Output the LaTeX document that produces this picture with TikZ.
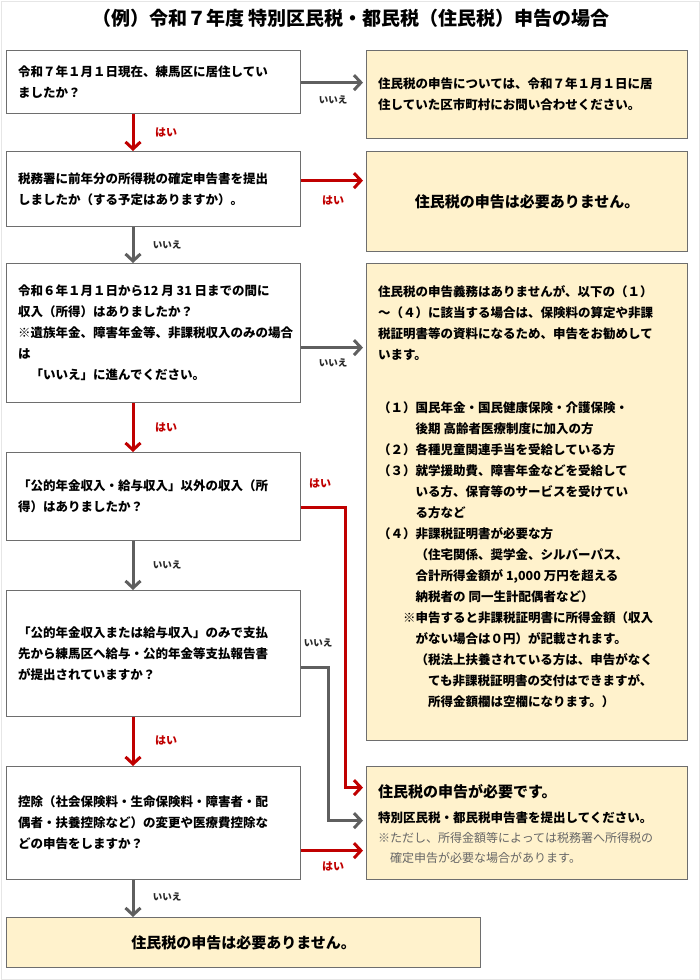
\documentclass[tikz,border=0pt]{standalone}
\usepackage{fontspec}
\setmainfont{Noto Sans CJK JP}
\usetikzlibrary{arrows.meta}
\definecolor{boxline}{HTML}{6E6E6E}
\definecolor{ansfill}{HTML}{FFF2CC}
\definecolor{redc}{HTML}{C00000}
\definecolor{grayc}{HTML}{5F5F5F}
\definecolor{notegray}{HTML}{666666}
\definecolor{framec}{HTML}{E6E6E6}
\tikzset{
  qbox/.style={draw=boxline, line width=1.2pt, fill=white, anchor=north west, inner sep=0pt},
  abox/.style={draw=boxline, line width=1.2pt, fill=ansfill, anchor=north west, inner sep=0pt},
  qtext/.style={anchor=west, align=left, inner sep=0pt, font=\fontsize{12.5}{21}\selectfont\bfseries, text=black},
  redarr/.style={draw=redc, line width=3pt, -{Straight Barb[length=7pt,width=15pt]}},
  grayarr/.style={draw=grayc, line width=3pt, -{Straight Barb[length=7pt,width=15pt]}},
  yeslbl/.style={inner sep=0pt, text=redc, font=\fontsize{11}{12}\selectfont\bfseries},
  nolbl/.style={inner sep=0pt, text=black!85, font=\fontsize{9.5}{11}\selectfont\bfseries},
}
\begin{document}
\begin{tikzpicture}[x=1pt,y=-1pt]
\useasboundingbox (0,0) rectangle (700,980);
\draw[framec, line width=0.8pt] (1,1) rectangle (699,979);
% title
\node[inner sep=0pt, font=\fontsize{19}{22}\selectfont\bfseries] (title) at (351,18) {（例）令和７年度 特別区民税・都民税（住民税）申告の場合};

% question boxes
\node[qbox, minimum width=294pt, minimum height=63pt] (q1) at (6,50) {};
\node[qbox, minimum width=294pt, minimum height=75pt] (q2) at (6,151) {};
\node[qbox, minimum width=294pt, minimum height=139pt] (q3) at (6,263) {};
\node[qbox, minimum width=294pt, minimum height=88pt] (q4) at (6,452) {};
\node[qbox, minimum width=294pt, minimum height=126pt] (q5) at (6,590) {};
\node[qbox, minimum width=294pt, minimum height=113pt] (q6) at (6,766) {};
\node[abox, minimum width=474pt, minimum height=50pt] (fin) at (6,917) {};

% answer boxes
\node[abox, minimum width=321pt, minimum height=88pt] (a1) at (366,50) {};
\node[abox, minimum width=321pt, minimum height=100pt] (a2) at (366,151) {};
\node[abox, minimum width=321pt, minimum height=477pt] (a3) at (366,263) {};
\node[abox, minimum width=321pt, minimum height=113pt] (a4) at (366,766) {};

% question texts
\node[qtext] (q1t) at ([xshift=12pt]q1.west) {令和７年１月１日現在、練馬区に居住してい\\ましたか？};
\node[qtext] (q2t) at ([xshift=12pt]q2.west) {税務署に前年分の所得税の確定申告書を提出\\しましたか（する予定はありますか）。};
\node[qtext] (q3t) at ([xshift=12pt]q3.west) {令和６年１月１日から12 月 31 日までの間に\\収入（所得）はありましたか？\\※遺族年金、障害年金等、非課税収入のみの場合\\は\\\hspace*{1em}「いいえ」に進んでください。};
\node[qtext] (q4t) at ([xshift=12pt]q4.west) {「公的年金収入・給与収入」以外の収入（所\\得）はありましたか？};
\node[qtext] (q5t) at ([xshift=12pt]q5.west) {「公的年金収入または給与収入」のみで支払\\先から練馬区へ給与・公的年金等支払報告書\\が提出されていますか？};
\node[qtext] (q6t) at ([xshift=12pt]q6.west) {控除（社会保険料・生命保険料・障害者・配\\偶者・扶養控除など）の変更や医療費控除な\\どの申告をしますか？};

% answer texts
\node[qtext] (a1t) at ([xshift=12pt]a1.west) {住民税の申告については、令和７年１月１日に居\\住していた区市町村にお問い合わせください。};
\node[inner sep=0pt, font=\fontsize{15}{18}\selectfont\bfseries] (a2t) at (a2.center) {住民税の申告は必要ありません。};
\node[inner sep=0pt, font=\fontsize{15}{18}\selectfont\bfseries] (fint) at (fin.center) {住民税の申告は必要ありません。};
\node[qtext, anchor=north west] (a3t) at ([xshift=12pt,yshift=-22pt]a3.north west) {住民税の申告義務はありませんが、以下の（１）\\
～（４）に該当する場合は、保険料の算定や非課\\
税証明書等の資料になるため、申告をお勧めして\\
います。\\[32pt]
（１）国民年金・国民健康保険・介護保険・\\
\hspace*{3em}後期 高齢者医療制度に加入の方\\
（２）各種児童関連手当を受給している方\\
（３）就学援助費、障害年金などを受給して\\
\hspace*{3em}いる方、保育等のサービスを受けてい\\
\hspace*{3em}る方など\\
（４）非課税証明書が必要な方\\
\hspace*{3em}（住宅関係、奨学金、シルバーパス、\\
\hspace*{3em}合計所得金額が 1,000 万円を超える\\
\hspace*{3em}納税者の 同一生計配偶者など）\\
\hspace*{2em}※申告すると非課税証明書に所得金額（収入\\
\hspace*{3em}がない場合は０円）が記載されます。\\
\hspace*{3em}（税法上扶養されている方は、申告がなく\\
\hspace*{4em}ても非課税証明書の交付はできますが、\\
\hspace*{4em}所得金額欄は空欄になります。）};
\node[anchor=base west, inner sep=0pt, font=\fontsize{15}{18}\selectfont\bfseries] (a4t1) at (378,797.5) {住民税の申告が必要です。};
\node[anchor=base west, inner sep=0pt, font=\fontsize{12.5}{15}\selectfont\bfseries] (a4t2) at (378,822.5) {特別区民税・都民税申告書を提出してください。};
\node[anchor=base west, inner sep=0pt, text=notegray, font=\fontsize{12}{14}\selectfont] (a4t3) at (378,842.5) {※ただし、所得金額等によっては税務署へ所得税の};
\node[anchor=base west, inner sep=0pt, text=notegray, font=\fontsize{12}{14}\selectfont] (a4t4) at (390,862.5) {確定申告が必要な場合があります。};

% vertical connectors
\draw[redarr] ([xshift=127pt]q1.south west) -- ([xshift=127pt]q2.north west);
\draw[grayarr] ([xshift=127pt]q2.south west) -- ([xshift=127pt]q3.north west);
\draw[redarr] ([xshift=127pt]q3.south west) -- ([xshift=127pt]q4.north west);
\draw[grayarr] ([xshift=127pt]q4.south west) -- ([xshift=127pt]q5.north west);
\draw[redarr] ([xshift=127pt]q5.south west) -- ([xshift=127pt]q6.north west);
\draw[grayarr] ([xshift=127pt]q6.south west) -- ([xshift=127pt]fin.north west);

% horizontal connectors
\path ([yshift=-0.5pt]q1.east) coordinate (q1r);
\path ([yshift=8.5pt]q2.east) coordinate (q2r);
\path ([yshift=-14.5pt]q3.east) coordinate (q3r);
\path ([yshift=-11pt]q4.east) coordinate (q4r);
\path ([yshift=-14pt]q5.east) coordinate (q5r);
\path ([yshift=-27.5pt]q6.east) coordinate (q6r);
\path ([yshift=35.5pt]a4.west) coordinate (a4in1);
\path ([yshift=2.5pt]a4.west) coordinate (a4in2);
\draw[grayarr, shorten >=3pt] (q1r) -- (q1r -| a1.west);
\draw[redarr, shorten >=3pt] (q2r) -- (q2r -| a2.west);
\draw[grayarr, shorten >=3pt] (q3r) -- (q3r -| a3.west);
\draw[redarr, shorten >=3pt] (q4r) -| ([xshift=-21pt]a4in1) -- (a4in1);
\draw[grayarr, shorten >=3pt] (q5r) -| ([xshift=-38pt]a4in2) -- (a4in2);
\draw[redarr, shorten >=3pt] (q6r) -- (q6r -| a4.west);

% labels
\node[nolbl] (l1) at (333,100) {いいえ};
\node[yeslbl] (l2) at (166,132) {はい};
\node[yeslbl] (l3) at (333,200) {はい};
\node[nolbl] (l4) at (167,245) {いいえ};
\node[nolbl] (l5) at (333,363) {いいえ};
\node[yeslbl] (l6) at (166,427) {はい};
\node[yeslbl] (l7) at (320,483) {はい};
\node[nolbl] (l8) at (167,565) {いいえ};
\node[nolbl] (l9) at (318,643) {いいえ};
\node[yeslbl] (l10) at (166,740) {はい};
\node[yeslbl] (l11) at (333,866) {はい};
\node[nolbl] (l12) at (167,897) {いいえ};
\end{tikzpicture}
\end{document}
